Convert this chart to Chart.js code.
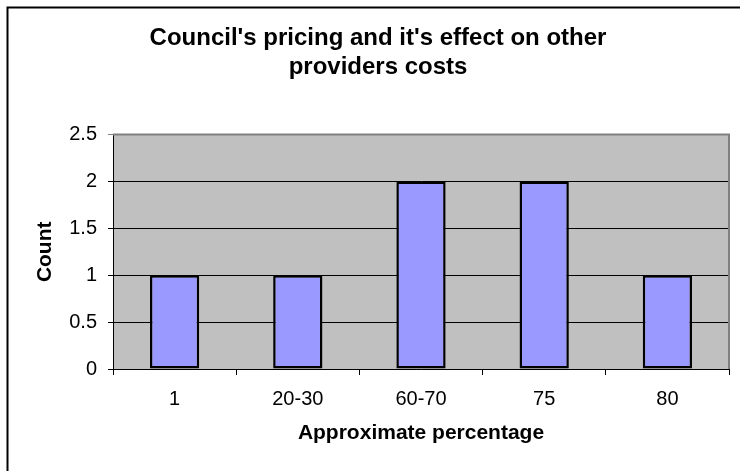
<!DOCTYPE html>
<html>
<head>
<meta charset="utf-8">
<script src="https://cdn.jsdelivr.net/npm/chart.js@4"></script>
<style>
  html, body { margin: 0; padding: 0; background: #fff; }
  #wrap { position: relative; width: 740px; height: 471px; }
</style>
</head>
<body>
<div id="wrap"><canvas id="c"></canvas></div>
<script>
const categories = ['1', '20-30', '60-70', '75', '80'];
const counts = [1, 1, 2, 2, 1];
const yTickLabels = ['0', '0.5', '1', '1.5', '2', '2.5'];
const titleLines = ["Council's pricing and it's effect on other", 'providers costs'];
const xTitle = 'Approximate percentage';
const yTitle = 'Count';

const FONT = "'Liberation Sans', Arial, sans-serif";

const framePlugin = {
  id: 'frame',
  beforeDraw(chart) {
    const { ctx, chartArea: a } = chart;
    ctx.save();
    ctx.fillStyle = '#C0C0C0';
    ctx.fillRect(a.left, a.top, a.right - a.left, a.bottom - a.top);
    ctx.restore();
  },
  afterDatasetsDraw(chart) {
    const { ctx, chartArea: a } = chart;
    ctx.save();
    ctx.strokeStyle = '#808080';
    ctx.lineWidth = 2;
    ctx.beginPath();
    ctx.moveTo(a.left, a.top);
    ctx.lineTo(a.right, a.top);
    ctx.lineTo(a.right, a.bottom);
    ctx.stroke();
    ctx.restore();
  },
  afterDraw(chart) {
    const { ctx } = chart;
    ctx.save();
    ctx.strokeStyle = '#000';
    ctx.lineWidth = 2;
    ctx.beginPath();
    ctx.moveTo(7.5, chart.height);
    ctx.lineTo(7.5, 7.5);
    ctx.lineTo(chart.width, 7.5);
    ctx.stroke();
    ctx.restore();
  }
};

new Chart(document.getElementById('c'), {
  type: 'bar',
  data: {
    labels: categories,
    datasets: [{
      data: counts,
      backgroundColor: '#9999FF',
      borderColor: '#000',
      borderWidth: 2.5,
      borderSkipped: false,
      barPercentage: 0.4,
      categoryPercentage: 1.0
    }]
  },
  options: {
    responsive: true,
    maintainAspectRatio: false,
    animation: false,
    events: [],
    layout: { padding: { left: 27, right: 11, top: 0, bottom: 0 } },
    plugins: {
      legend: { display: false },
      tooltip: { enabled: false },
      title: {
        display: true,
        text: titleLines,
        color: '#000',
        font: { family: FONT, size: 24, weight: 'bold', lineHeight: 1.2 },
        padding: { top: 24, bottom: 53 }
      }
    },
    scales: {
      x: {
        offset: true,
        grid: {
          offset: true,
          drawOnChartArea: false,
          drawTicks: true,
          tickLength: 6,
          color: '#000',
          lineWidth: 1
        },
        border: { display: true, color: '#000', width: 1 },
        ticks: {
          color: '#000',
          font: { family: FONT, size: 20 },
          padding: 12,
          maxRotation: 0,
          autoSkip: false
        },
        title: {
          display: true,
          text: xTitle,
          color: '#000',
          font: { family: FONT, size: 21, weight: 'bold' },
          padding: { top: 0, bottom: 25 }
        },
        afterFit(scale) { scale.height = 102; }
      },
      y: {
        min: 0,
        max: 2.5,
        grid: {
          drawOnChartArea: true,
          drawTicks: true,
          tickLength: 5,
          color: (c) => (c.tick && c.tick.value === 2.5 ? '#808080' : '#000'),
          lineWidth: 1
        },
        border: { display: true, color: '#000', width: 1 },
        ticks: {
          stepSize: 0.5,
          color: '#000',
          font: { family: FONT, size: 20 },
          padding: 11,
          callback: (v, i) => yTickLabels[i]
        },
        title: {
          display: true,
          text: yTitle,
          color: '#000',
          font: { family: FONT, size: 21, weight: 'bold' },
          padding: { top: 6, bottom: 0 }
        },
        afterFit(scale) { scale.width = 86; }
      }
    }
  },
  plugins: [framePlugin]
});
</script>
</body>
</html>
